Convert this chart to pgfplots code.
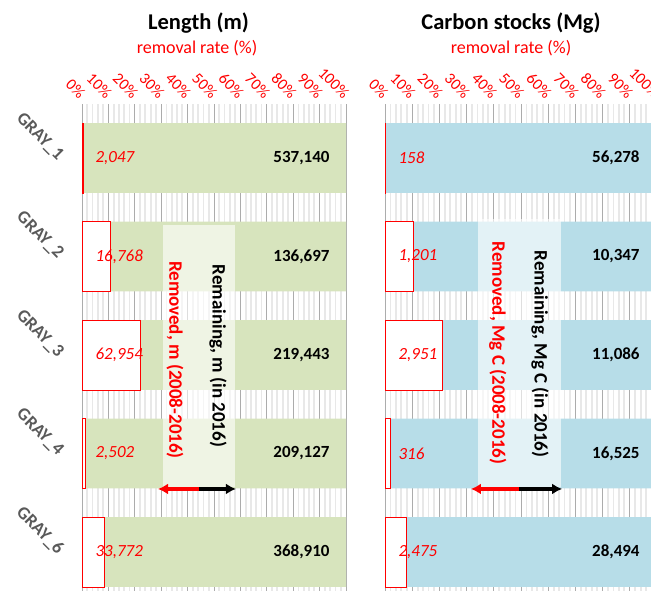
\documentclass[border=0pt]{standalone}
\usepackage{fontspec}
\setmainfont{Carlito}
\usepackage{pgfplots}
\pgfplotsset{compat=1.18}
\usepackage{pgfplotstable}
\usetikzlibrary{arrows.meta}

\definecolor{lgreen}{HTML}{D7E4BD}
\definecolor{lblue}{HTML}{B7DDE8}
\definecolor{catgray}{HTML}{595959}

% removal rate (%) and values, per stand
\pgfplotstableread{
y  remp   keepp  rem     keep
0  0.38   99.62  2,047   537,140
1  10.93  89.07  16,768  136,697
2  22.29  77.71  62,954  219,443
3  1.18   98.82  2,502   209,127
4  8.39   91.61  33,772  368,910
}\lengthdata

\pgfplotstableread{
y  remp   keepp  rem    keep
0  0.28   99.72  158    56,278
1  10.40  89.60  1,201  10,347
2  21.02  78.98  2,951  11,086
3  1.88   98.12  316    16,525
4  7.99   92.01  2,475  28,494
}\carbondata

\tikzset{
  vtext/.style={rotate=-90, font=\bfseries\fontsize{19}{19}\selectfont},
  harrow/.style={line width=3.2pt, -{Latex[length=10pt,width=11pt]}},
}

\pgfplotsset{
  panel/.style={
    scale only axis, height=488pt, anchor=south west,
    xmin=0, xmax=100, ymin=-0.548, ymax=4.406, y dir=reverse,
  },
  bars/.style={
    panel, xbar stacked, bar width=0.71,
    xtick={0,10,...,100},
    xticklabels={0\%,10\%,20\%,30\%,40\%,50\%,60\%,70\%,80\%,90\%,100\%},
    xticklabel pos=top,
    xticklabel style={xshift=3pt, yshift=6pt, rotate=-45, anchor=east, text=red,
      font=\fontsize{16}{16}\selectfont},
    ytick={0,...,4},
    axis line style={draw=none},
    tick style={draw=none},
    xmajorgrids, xminorgrids, minor x tick num=4,
    major grid style={gray!65, line width=0.9pt},
    minor grid style={gray!18, line width=1.8pt},
  },
  labels/.style={panel, hide axis, clip=false},
  remlab/.style={draw=none, mark=none, nodes near coords, point meta=explicit symbolic,
    nodes near coords style={anchor=west, text=red, font=\itshape\fontsize{17}{17}\selectfont}},
  keeplab/.style={draw=none, mark=none, nodes near coords, point meta=explicit symbolic,
    nodes near coords style={anchor=east, text=black, font=\bfseries\fontsize{17}{17}\selectfont}},
}

\begin{document}
\begin{tikzpicture}
\useasboundingbox (0,0) rectangle (651pt,590pt);

\node[font=\bfseries\fontsize{22.5}{22.5}\selectfont] at (198.5pt,567pt) {Length (m)};
\node[text=red, font=\fontsize{18}{18}\selectfont] at (197pt,542pt) {removal rate (\%)};
\node[font=\bfseries\fontsize{22.5}{22.5}\selectfont] at (511pt,567pt) {Carbon stocks (Mg)};
\node[text=red, font=\fontsize{18}{18}\selectfont] at (511pt,542pt) {removal rate (\%)};

% Length panel
\begin{axis}[bars, width=264pt, at={(82pt,-2pt)},
  yticklabels={GRAY\_1,GRAY\_2,GRAY\_3,GRAY\_4,GRAY\_6},
  yticklabel style={xshift=-19pt, yshift=-2pt, rotate=-45, anchor=east, text=catgray,
    font=\bfseries\fontsize{18}{18}\selectfont},
]
\addplot[fill=white, draw=red, line width=0.8pt] table[x=remp, y=y] {\lengthdata};
\addplot[fill=lgreen, draw=none] table[x=keepp, y=y] {\lengthdata};
\end{axis}
\begin{axis}[labels, width=264pt, at={(82pt,-2pt)}]
\fill[white, opacity=0.6] (axis cs:30.7,0.68) rectangle (axis cs:58,3.34);
\node[vtext, text=red] at (axis cs:35.2,2.05) {Removed, m (2008-2016)};
\node[vtext] at (axis cs:51.5,2.01) {Remaining, m (in 2016)};
\draw[harrow, red] (axis cs:44.3,3.36) -- (axis cs:28.8,3.36);
\draw[harrow, black] (axis cs:44.3,3.36) -- (axis cs:58.3,3.36);
\addplot[remlab] table[x expr=3.8, y=y, meta=rem] {\lengthdata};
\addplot[keeplab] table[x expr=95.1, y=y, meta=keep] {\lengthdata};
\end{axis}

% Carbon panel
\begin{axis}[bars, width=272pt, at={(385pt,-2pt)}, yticklabels={}]
\addplot[fill=white, draw=red, line width=0.8pt] table[x=remp, y=y] {\carbondata};
\addplot[fill=lblue, draw=none] table[x=keepp, y=y] {\carbondata};
\end{axis}
\begin{axis}[labels, width=272pt, at={(385pt,-2pt)}]
\fill[white, opacity=0.62] (axis cs:34.2,0.62) rectangle (axis cs:64.7,3.34);
\node[vtext, text=red] at (axis cs:41.5,1.98) {Removed, Mg C (2008-2016)};
\node[vtext] at (axis cs:57.0,1.99) {Remaining, Mg C (in 2016)};
\draw[harrow, red] (axis cs:49.3,3.36) -- (axis cs:31.6,3.36);
\draw[harrow, black] (axis cs:49.3,3.36) -- (axis cs:65.1,3.36);
\addplot[remlab] table[x expr=3.7, y=y, meta=rem] {\carbondata};
\addplot[keeplab] table[x expr=94.9, y=y, meta=keep] {\carbondata};
\end{axis}
\end{tikzpicture}
\end{document}
